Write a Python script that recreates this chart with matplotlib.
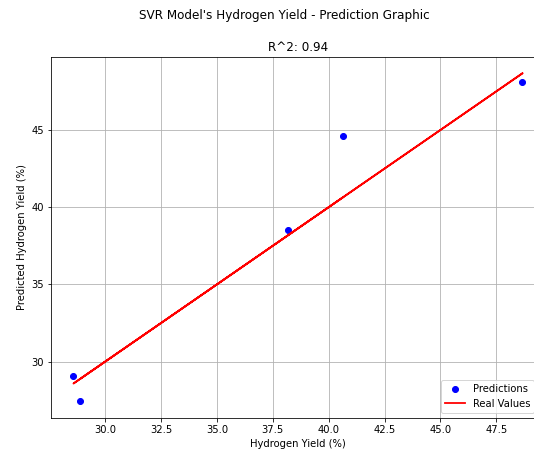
import matplotlib
matplotlib.use("Agg")
import matplotlib.pyplot as plt

# Test values (real) vs SVR predictions, in the order they were plotted
y_real = [40.64, 28.58, 48.67, 38.18, 28.89]
y_pred = [44.64, 29.07, 48.11, 38.53, 27.43]
r2 = 0.94

DPI = 72
fig = plt.figure(figsize=(534 / DPI, 455 / DPI), dpi=DPI)
# axes run past the right edge, as in the cropped reference
ax = fig.add_axes([0.0955, 0.082, 0.925, 0.793])

ax.scatter(y_real, y_pred, color="blue", label="Predictions")
ax.plot(y_real, y_real, color="red", lw=1.8, label="Real Values")

ax.set_xlabel("Hydrogen Yield (%)")
ax.set_ylabel("Predicted Hydrogen Yield (%)")
ax.set_title(f"R^2: {r2:.2f}")
fig.suptitle("SVR Model's Hydrogen Yield - Prediction Graphic", x=0.532)
ax.grid(True)
ax.legend(loc="lower right", bbox_to_anchor=(0.988, 0.0))

fig.savefig("out.png", dpi=DPI)
